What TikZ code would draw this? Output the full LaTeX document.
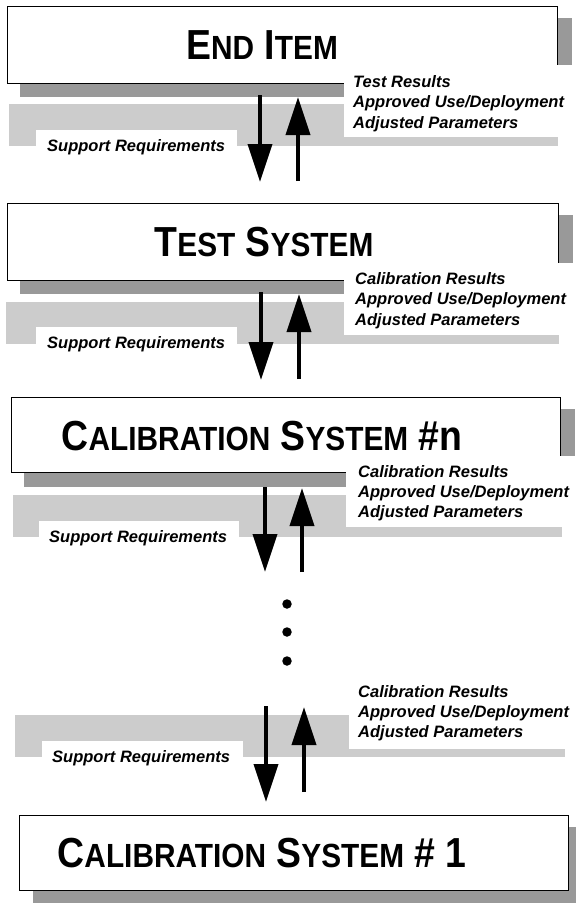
\documentclass[tikz,border=0pt]{standalone}
\usepackage{fontspec}
\setmainfont{Liberation Sans}
\usetikzlibrary{arrows.meta}
\definecolor{shadowgray}{gray}{0.6}
\definecolor{bandgray}{gray}{0.8}
\newcommand\BC[1]{{\fontsize{42}{42}\selectfont #1}}
\newcommand\SC[1]{{\fontsize{33.5}{33.5}\selectfont #1}}
\newcommand\TitleText[1]{\scalebox{0.89}[1]{\bfseries #1}}
\tikzset{
  shadowbox/.style={fill=shadowgray, draw=none},
  mainbox/.style={draw=black, line width=1.3pt, fill=white, inner sep=0pt, anchor=north west},
  bandbox/.style={fill=bandgray, draw=none},
  whitepatch/.style={fill=white, draw=none},
  lbl/.style={font=\fontsize{16.5}{20.5}\selectfont\bfseries\itshape, inner sep=0pt, anchor=base west},
  titletext/.style={inner sep=0pt, anchor=base},
  flow/.style={line width=4pt, -{Triangle[length=38pt,width=24pt]}},
  dot/.style={circle, fill=black, inner sep=0pt, minimum size=9.5pt},
}
\begin{document}
\begin{tikzpicture}[x=1pt,y=-1pt]
\fill[white] (0,0) rectangle (576,903);
\useasboundingbox (0,0) rectangle (576,903);

% ---------- Section 1: End Item ----------
\fill[shadowbox] (20,18) rectangle (572,97);
\node[mainbox, minimum width=550pt, minimum height=77pt] (b1) at (7,6) {};
\node[titletext] (t1) at (262,59) {\TitleText{\BC{E}\SC{ND}\BC{ I}\SC{TEM}}};
\fill[bandbox] (9,104) rectangle (558,146);
\fill[whitepatch] (36,130) rectangle (237,146);
\node[lbl] (s1) at (47,151) {Support Requirements};
\fill[whitepatch] (344,65) rectangle (576,137);
\node[lbl] (r1a) at (353,87) {Test Results};
\node[lbl] (r1b) at (353,107.5) {Approved Use/Deployment};
\node[lbl] (r1c) at (353,128) {Adjusted Parameters};
\coordinate (d1s) at (260,95);  \coordinate (d1e) at (260,182);
\coordinate (u1s) at (298,181); \coordinate (u1e) at (298,97);
\draw[flow] (d1s) -- (d1e);
\draw[flow] (u1s) -- (u1e);

% ---------- Section 2: Test System ----------
\fill[shadowbox] (20,215) rectangle (573,294);
\node[mainbox, minimum width=551pt, minimum height=77pt] (b2) at (7,203) {};
\node[titletext] (t2) at (264,256) {\TitleText{\BC{T}\SC{EST}\BC{ S}\SC{YSTEM}}};
\fill[bandbox] (6,302) rectangle (559,344);
\fill[whitepatch] (36,327) rectangle (237,344);
\node[lbl] (s2) at (47,348) {Support Requirements};
\fill[whitepatch] (344,263) rectangle (576,335);
\node[lbl] (r2a) at (355,284) {Calibration Results};
\node[lbl] (r2b) at (355,304.5) {Approved Use/Deployment};
\node[lbl] (r2c) at (355,325) {Adjusted Parameters};
\coordinate (d2s) at (261,292); \coordinate (d2e) at (261,380);
\coordinate (u2s) at (299,379); \coordinate (u2e) at (299,294);
\draw[flow] (d2s) -- (d2e);
\draw[flow] (u2s) -- (u2e);

% ---------- Section 3: Calibration System #n ----------
\fill[shadowbox] (24,409) rectangle (575,487);
\node[mainbox, minimum width=549pt, minimum height=75pt] (b3) at (11,397) {};
\node[titletext] (t3) at (262,450) {\TitleText{\BC{C}\SC{ALIBRATION}\BC{ S}\SC{YSTEM}\BC{ \#n}}};
\fill[bandbox] (13,495) rectangle (562,537);
\fill[whitepatch] (39,521) rectangle (239,537);
\node[lbl] (s3) at (49,542) {Support Requirements};
\fill[whitepatch] (346,456) rectangle (576,527);
\node[lbl] (r3a) at (358,477) {Calibration Results};
\node[lbl] (r3b) at (358,497) {Approved Use/Deployment};
\node[lbl] (r3c) at (358,517) {Adjusted Parameters};
\coordinate (d3s) at (265,487); \coordinate (d3e) at (265,572);
\coordinate (u3s) at (302,572); \coordinate (u3e) at (302,488);
\draw[flow] (d3s) -- (d3e);
\draw[flow] (u3s) -- (u3e);

% ---------- Ellipsis ----------
\node[dot] (e1) at (287,604) {};
\node[dot] (e2) at (287,632) {};
\node[dot] (e3) at (287,661) {};

% ---------- Section 4: Calibration System # 1 ----------
\fill[bandbox] (15,715) rectangle (565,757);
\fill[whitepatch] (42,741) rectangle (243,757);
\node[lbl] (s4) at (52,762) {Support Requirements};
\fill[whitepatch] (349,680) rectangle (576,749);
\node[lbl] (r4a) at (358,697) {Calibration Results};
\node[lbl] (r4b) at (358,717) {Approved Use/Deployment};
\node[lbl] (r4c) at (358,737) {Adjusted Parameters};
\coordinate (d4s) at (266,706); \coordinate (d4e) at (266,802);
\coordinate (u4s) at (304,792); \coordinate (u4e) at (304,707);
\draw[flow] (d4s) -- (d4e);
\draw[flow] (u4s) -- (u4e);
\fill[shadowbox] (33,827) rectangle (582,903);
\node[mainbox, minimum width=549pt, minimum height=75pt] (b4) at (19,815) {};
\node[titletext] (t4) at (262,867) {\TitleText{\BC{C}\SC{ALIBRATION}\BC{ S}\SC{YSTEM}\BC{ \# 1}}};
\end{tikzpicture}
\end{document}
